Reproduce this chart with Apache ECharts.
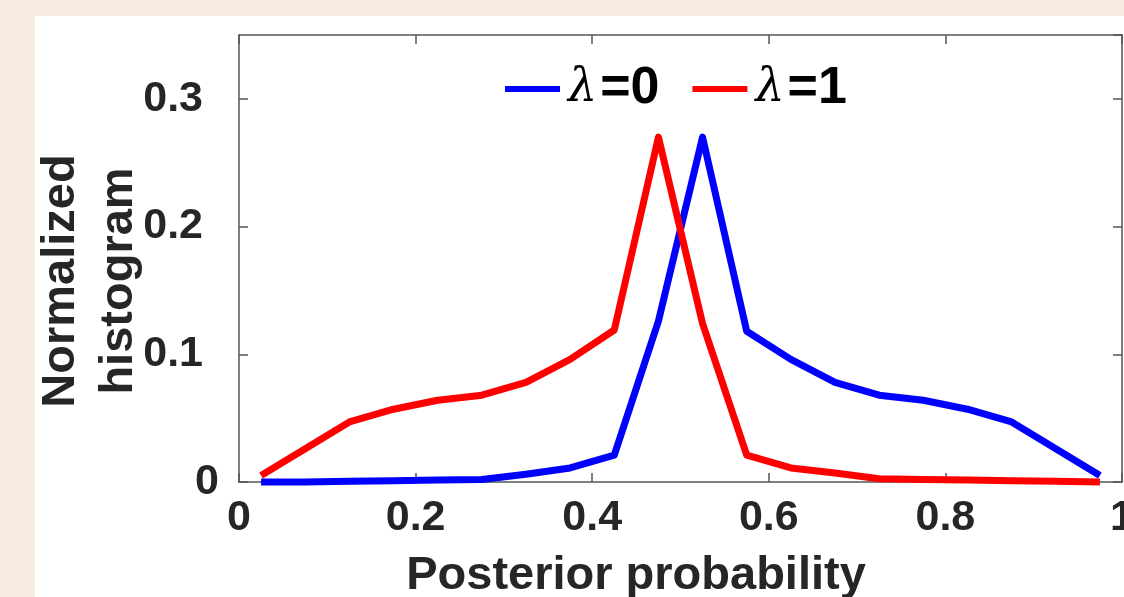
<!DOCTYPE html>
<html>
<head>
<meta charset="utf-8">
<script src="https://cdn.jsdelivr.net/npm/echarts@6/dist/echarts.min.js"></script>
<style>
  html, body { margin: 0; padding: 0; }
  #main { width: 1124px; height: 597px; }
</style>
</head>
<body>
<div id="main"></div>
<script>
// bin centres of the posterior probability histogram
var binCenters = [0.025, 0.075, 0.125, 0.175, 0.225, 0.275, 0.325, 0.375, 0.425, 0.475,
                  0.525, 0.575, 0.625, 0.675, 0.725, 0.775, 0.825, 0.875, 0.925, 0.975];
var lambda0 = [0, 0, 0.0005, 0.001, 0.0015, 0.002, 0.006, 0.011, 0.021, 0.126,
               0.270, 0.118, 0.096, 0.078, 0.068, 0.064, 0.057, 0.047, 0.026, 0.005];
var lambda1 = [0.005, 0.026, 0.047, 0.057, 0.064, 0.068, 0.078, 0.096, 0.119, 0.270,
               0.124, 0.021, 0.011, 0.007, 0.0026, 0.002, 0.0015, 0.001, 0.0005, 0];
var seriesNames = ["λ=0", "λ=1"];
var seriesColors = ["#0000ff", "#ff0000"];

var textColor = "#262626";
var axisColor = "#555555";
var tickFont = 43;

function pairs(ys) {
    return binCenters.map((x, i) => [x, ys[i]]);
}

var myChart = echarts.init(document.getElementById("main"));

var tickStyle = {
    show: true,
    inside: true,
    length: 9,
    lineStyle: { color: axisColor, width: 1.5 }
};
var lineStyle = {
    show: true,
    onZero: false,
    lineStyle: { color: axisColor, width: 1.5 }
};

var option = {
    animation: false,
    backgroundColor: "#f7ece0",
    graphic: [{
        type: "rect",
        z: -10,
        shape: { x: 35, y: 16, width: 1089, height: 581 },
        style: { fill: "#ffffff" }
    }, {
        //y轴标题
        type: "text",
        x: 90,
        y: 281,
        rotation: Math.PI / 2,
        style: {
            text: "Normalized\nhistogram",
            fill: textColor,
            font: "bold 47px 'Liberation Sans', Arial, sans-serif",
            lineHeight: 58,
            align: "center",
            verticalAlign: "middle"
        }
    }, {
        //x轴标题
        type: "text",
        x: 636,
        y: 600,
        style: {
            text: "Posterior probability",
            fill: textColor,
            font: "bold 47px 'Liberation Sans', Arial, sans-serif",
            align: "center",
            verticalAlign: "bottom"
        }
    }],
    legend: {
        left: 500,
        top: 58,
        icon: "rect",
        itemWidth: 55,
        itemHeight: 6,
        itemGap: 33,
        data: seriesNames,
        formatter: function (name) {
            var p = name.split("=");
            return "{l|" + p[0] + "}{b|=" + p[1] + "}";
        },
        textStyle: {
            color: "#000",
            rich: {
                l: {
                    fontFamily: "'DejaVu Serif', serif",
                    fontStyle: "italic",
                    fontSize: 46,
                    color: "#000",
                    padding: [0, 3, 0, 3]
                },
                b: {
                    fontFamily: "'Liberation Sans', Arial, sans-serif",
                    fontWeight: "bold",
                    fontSize: 52,
                    color: "#000"
                }
            }
        }
    },
    grid: {
        left: 239,
        right: 2,
        top: 35,
        bottom: 115,
        containLabel: false,
        outerBoundsMode: "none"
    },
    xAxis: [{
        type: "value",
        min: 0,
        max: 1,
        interval: 0.2,
        position: "bottom",
        axisLine: lineStyle,
        axisTick: tickStyle,
        splitLine: { show: false },
        axisLabel: {
            margin: 15,
            color: textColor,
            fontSize: tickFont,
            fontWeight: "bold",
            fontFamily: "'Liberation Sans', Arial, sans-serif"
        }
    }, {
        type: "value",
        min: 0,
        max: 1,
        interval: 0.2,
        position: "top",
        axisLine: lineStyle,
        axisTick: tickStyle,
        splitLine: { show: false },
        axisLabel: { show: false }
    }],
    yAxis: [{
        type: "value",
        min: 0,
        max: 0.35,
        interval: 0.1,
        position: "left",
        axisLine: lineStyle,
        axisTick: tickStyle,
        splitLine: { show: false },
        axisLabel: {
            margin: 20,
            showMaxLabel: false,
            color: textColor,
            fontSize: tickFont,
            fontWeight: "bold",
            fontFamily: "'Liberation Sans', Arial, sans-serif",
            formatter: function (v) {
                if (v === 0) return "0";
                return "{p|" + (+v.toFixed(1)) + "}";
            },
            rich: {
                p: {
                    padding: [0, 16, 0, 0],
                    color: textColor,
                    fontSize: tickFont,
                    fontWeight: "bold",
                    fontFamily: "'Liberation Sans', Arial, sans-serif"
                }
            }
        }
    }, {
        type: "value",
        min: 0,
        max: 0.35,
        interval: 0.1,
        position: "right",
        axisLine: lineStyle,
        axisTick: tickStyle,
        splitLine: { show: false },
        axisLabel: { show: false }
    }],
    series: seriesNames.map((name, i) => ({
        name: name,
        type: "line",
        data: pairs(i === 0 ? lambda0 : lambda1),
        showSymbol: false,
        symbol: "none",
        clip: false,
        color: seriesColors[i],
        lineStyle: { color: seriesColors[i], width: 7, join: "round" }
    }))
};
myChart.setOption(option);
</script>
</body>
</html>
